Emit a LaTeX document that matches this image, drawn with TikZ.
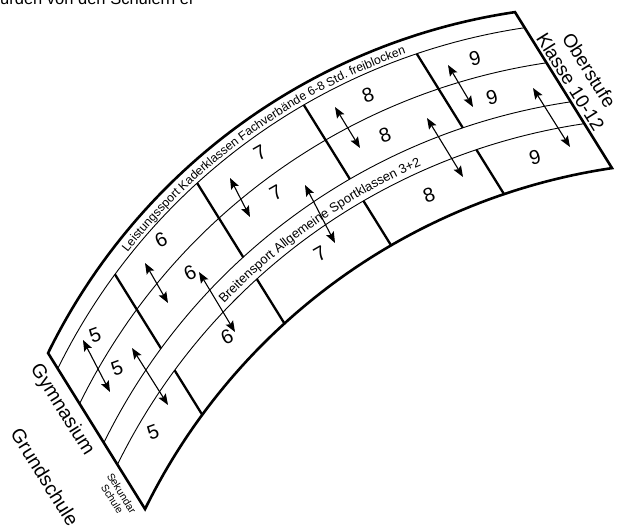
\documentclass[tikz,border=0pt]{standalone}
\usepackage{fontspec}
\setmainfont{Liberation Sans}
\usetikzlibrary{arrows.meta,decorations.text}
\begin{document}
\begin{tikzpicture}[x=1pt,y=1pt,
  declare function={bx(\a,\v)=606+97*\v-621.6*cos(\a); by(\a,\v)=-98-156*\v+621.6*sin(\a);},
  outline/.style={line width=2.6pt, line join=miter},
  divider/.style={line width=2.3pt},
  bandline/.style={line width=0.9pt},
  dblarrow/.style={line width=1.1pt, {Stealth[length=11pt,width=8.5pt,inset=2pt]}-{Stealth[length=11pt,width=8.5pt,inset=2pt]}},
  num/.style={font=\fontsize{20}{20}\selectfont, inner sep=0pt},
  sidelabel/.style={font=\fontsize{19.5}{22}\selectfont, align=center, inner sep=0pt, rotate=-58},
]
\useasboundingbox (0,0) rectangle (617,529);
\clip (0,0) rectangle (617,529);
\def\aA{26.15}\def\aF{81.58}
% top cut-off text
\node[anchor=base west, font=\fontsize{16.5}{17}\selectfont, inner sep=0pt] (toptext) at (0,524) {urden von den Schülern ei};
% outline
\draw[outline] plot[domain=\aA:\aF, samples=120] ({bx(\x,0)},{by(\x,0)})
  -- plot[domain=\aF:\aA, samples=120] ({bx(\x,1)},{by(\x,1)}) -- cycle;
% band lines
\foreach \v in {0.10,0.325,0.575,0.715}
  \draw[bandline] plot[domain=\aA:\aF, samples=120] ({bx(\x,\v)},{by(\x,\v)});
% dividers
\foreach \a/\n in {36.33/1,47.67/2,59.88/3,71.33/4}{
  \coordinate (t\n) at ({bx(\a,0.10)},{by(\a,0.10)});
  \coordinate (m\n) at ({bx(\a,0.575)},{by(\a,0.575)});
  \coordinate (n\n) at ({bx(\a,0.715)},{by(\a,0.715)});
  \coordinate (b\n) at ({bx(\a,1)},{by(\a,1)});
}
\foreach \n in {1,2,3,4}{
  \draw[divider] (t\n) -- (m\n);
  \draw[divider] (n\n) -- (b\n);
}
% curved band texts
\path[decorate, decoration={text along path, text align=center,
  text={|\fontsize{12.2}{12}\selectfont|Leistungssport Kaderklassen Fachverbände 6-8 Std. freiblocken}}]
  plot[domain=30.5:78.5, samples=120] ({bx(\x,0.08)},{by(\x,0.08)});
\path[decorate, decoration={text along path, text align=center,
  text={|\fontsize{13}{13}\selectfont|Breitensport Allgemeine Sportklassen 3+2}}]
  plot[domain=31:79, samples=120] ({bx(\x,0.685)},{by(\x,0.685)});
% numbers
\node[num, rotate=20] (n5a) at (95,194) {5};
\node[num, rotate=20] (n5b) at (117,161) {5};
\node[num, rotate=20] (n5c) at (153,97) {5};
\node[num, rotate=25] (n6a) at (161,289) {6};
\node[num, rotate=25] (n6b) at (190,256) {6};
\node[num, rotate=25] (n6c) at (227,192) {6};
\node[num, rotate=30] (n7a) at (260,376) {7};
\node[num, rotate=30] (n7b) at (276,336) {7};
\node[num, rotate=30] (n7c) at (320,275) {7};
\node[num, rotate=20] (n8a) at (368,434) {8};
\node[num, rotate=20] (n8b) at (385,394) {8};
\node[num, rotate=20] (n8c) at (429,334) {8};
\node[num, rotate=15] (n9a) at (475,471) {9};
\node[num, rotate=15] (n9b) at (492,432) {9};
\node[num, rotate=15] (n9c) at (535,372) {9};
% arrows
\coordinate (a1s) at (83,189);  \coordinate (a1e) at (110,137);
\coordinate (b1s) at (132,181); \coordinate (b1e) at (168,124);
\coordinate (a2s) at (145,266); \coordinate (a2e) at (168,226);
\coordinate (b2s) at (199,257); \coordinate (b2e) at (235,197);
\coordinate (a3s) at (230,351); \coordinate (a3e) at (250,312);
\coordinate (b3s) at (305,344); \coordinate (b3e) at (335,286);
\coordinate (a4s) at (335,422); \coordinate (a4e) at (360,381);
\coordinate (b4s) at (427,411); \coordinate (b4e) at (463,352);
\coordinate (a5s) at (448,464); \coordinate (a5e) at (473,422);
\coordinate (b5s) at (533,441); \coordinate (b5e) at (570,382);
\foreach \n in {1,2,3,4,5}{
  \draw[dblarrow] (a\n s) -- (a\n e);
  \draw[dblarrow] (b\n s) -- (b\n e);
}
% side labels
\node[sidelabel] (gym) at (62,119) {Gymnasium};
\node[sidelabel] (grund) at (45,52) {Grundschule};
\node[sidelabel, font=\fontsize{10.5}{11}\selectfont] (sek) at (117,33) {Sekundar\\Schule};
\node[sidelabel, font=\fontsize{19}{22}\selectfont] (ober) at (580,453) {Oberstufe\\Klasse 10-12};
\end{tikzpicture}
\end{document}
